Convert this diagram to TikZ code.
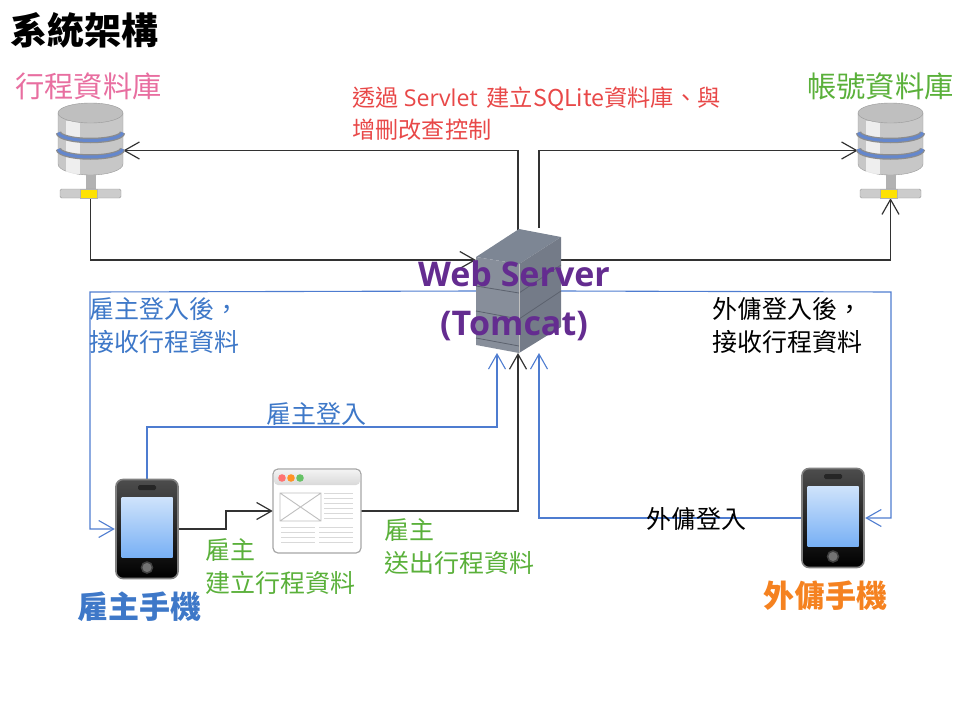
\documentclass[tikz,border=0pt]{standalone}
\usepackage{fontspec}
\usepackage{xcolor}
\setmainfont{Open Sans}
\newfontfamily\cjk{Noto Sans CJK TC}
\usetikzlibrary{arrows.meta,positioning,calc}
\definecolor{linedark}{RGB}{50,50,50}
\definecolor{lineblue}{RGB}{78,124,208}
\definecolor{textblue}{RGB}{62,120,200}
\definecolor{textgreen}{RGB}{90,176,58}
\definecolor{textpink}{RGB}{232,110,160}
\definecolor{textred}{RGB}{232,72,72}
\definecolor{textpurple}{RGB}{100,44,144}
\definecolor{textorange}{RGB}{245,130,32}
\definecolor{bandblue}{RGB}{100,135,205}
\definecolor{servertop}{RGB}{125,134,148}
\definecolor{serverleft}{RGB}{135,142,154}
\definecolor{serverright}{RGB}{116,123,136}
\definecolor{serverseam}{RGB}{92,98,110}
\definecolor{screentop}{RGB}{207,227,251}
\definecolor{screenbot}{RGB}{120,176,245}
\tikzset{
    % Define standard node styles
    iconbox/.style={
        rectangle, draw=none, inner sep=0pt
    },
    blackarrow/.style={
        -{Straight Barb[length=15pt,width=17pt,line width=1.2pt]}, line width=1.2pt, color=linedark
    },
    bluearrow/.style={
        -{Straight Barb[length=15pt,width=17pt,line width=1.1pt]}, line width=1.1pt, color=lineblue
    },
    caption/.style={
        anchor=west, align=left, inner sep=0pt,
        font=\fontsize{25}{33}\selectfont\cjk
    },
    storelabel/.style={
        inner sep=0pt, font=\fontsize{29.3}{32}\selectfont\cjk
    },
    phonelabel/.style={
        inner sep=0pt, font=\fontsize{31}{34}\selectfont\cjk\bfseries
    },
    % Define the pictures of the devices
    dbicon/.pic={
        \draw[fill=black!22, draw=black!40] (-32.5,-37.5) -- (-32.5,13.5) arc[x radius=32.5, y radius=11, start angle=180, end angle=0]
            -- (32.5,-37.5) -- cycle;
        \fill[white, opacity=.7] (-25,-30) rectangle (-11,23);
        \draw[black!45, line width=5.5pt] (-32,-18) arc[x radius=32, y radius=8, start angle=180, end angle=0];
        \draw[black!45, line width=5.5pt] (-32,-1.5) arc[x radius=32, y radius=8, start angle=180, end angle=0];
        \draw[bandblue, line width=3pt] (-32,-18) arc[x radius=32, y radius=8, start angle=180, end angle=0];
        \draw[bandblue, line width=3pt] (-32,-1.5) arc[x radius=32, y radius=8, start angle=180, end angle=0];
        \draw[fill=black!25, draw=black!40] (0,-37.5) ellipse[x radius=32.5, y radius=10];
        \fill[black!30] (-4.5,24.5) rectangle (5.5,40);
        \draw[fill=black!20, draw=black!40, rounded corners=1.5pt] (-30.5,38.5) rectangle (30.5,47.5);
        \draw[fill=yellow!85!orange, draw=black!30] (-10,38.5) rectangle (6.5,47.5);
    },
    phoneicon/.pic={
        \draw[draw=black!50, line width=1.6pt, rounded corners=7pt, top color=black!70, bottom color=black] (-31,-49.5) rectangle (31,49.5);
        \fill[black!85, rounded corners=1.5pt] (-9,-44) rectangle (9,-39);
        \shade[top color=screentop, bottom color=screenbot] (-25.5,-32) rectangle (25.5,28);
        \draw[fill=black!55, draw=black!75, line width=1.5pt] (0,38.5) circle (5.5);
    },
    pageicon/.pic={
        \draw[fill=white, draw=black!35, line width=1.2pt, rounded corners=5pt] (273,469) rectangle (361,553);
        \shade[top color=black!5, bottom color=black!15, rounded corners=4pt] (274,470) rectangle (360,485);
        \fill[red!55] (282,478) circle (3.8);
        \fill[orange!85] (291,478) circle (3.8);
        \fill[green!60!black!60] (300,478) circle (3.8);
        \draw[black!25, line width=.9pt] (280,493) rectangle (321,521) (280,493) -- (321,521) (280,521) -- (321,493);
        \foreach \y in {493,498,...,518} {\draw[black!15, line width=1pt] (324,\y) -- (353,\y);}
        \foreach \y in {527,532,537,542} {\draw[black!15, line width=1pt] (281,\y) -- (315,\y) (319,\y) -- (353,\y);}
    },
    servericon/.pic={
        \fill[servertop] (476,257) -- (519,229) -- (561,237) -- (519,264) -- cycle;
        \fill[serverleft] (476,257) -- (519,264) -- (519,353) -- (476,345) -- cycle;
        \fill[serverright] (519,264) -- (561,237) -- (561,327) -- (519,353) -- cycle;
        \draw[serverseam, line width=.8pt] (476,286) -- (519,293) -- (561,265) (476,311) -- (519,319) -- (561,291) (476,338) -- (519,346);
        \draw[black!25, line width=.8pt] (519,264) -- (519,353);
    }
}
\begin{document}
\begin{tikzpicture}[x=1pt,y=-1pt]
\useasboundingbox (0,0) rectangle (960,720);

\node[iconbox, minimum width=65pt, minimum height=95pt] (dbsched) at (90.5,150.5) {};
\node[iconbox, minimum width=65pt, minimum height=95pt] (dbacct) at (890.5,150.5) {};
\node[iconbox, minimum width=85pt, minimum height=124pt] (server) at (518.5,291) {};
\node[iconbox, minimum width=64pt, minimum height=100pt] (bossphone) at (147,529) {};
\node[iconbox, minimum width=64pt, minimum height=100pt] (workerphone) at (833,518) {};
\node[iconbox, minimum width=88pt, minimum height=84pt] (page) at (317,511) {};

\coordinate (srvtopl) at (518,230);
\coordinate (srvtopr) at (539,228);
\coordinate (srvleft) at (476,260);
\coordinate (srvright) at (560,260);
\coordinate (srvbotl) at (497,353);
\coordinate (srvbotm) at (518,353);
\coordinate (srvbotr) at (539,353);
\coordinate (bluebendl) at (90,292);
\coordinate (bluebendr) at (891,292);
\coordinate (pagebend) at (226,520);

\draw[blackarrow] (srvtopl) |- (dbsched.east);
\draw[blackarrow] (srvtopr) |- (dbacct.west);
\draw[blackarrow] (dbsched.south) |- (srvleft);
\draw[blackarrow] (srvright) -| (dbacct.south);
\draw[bluearrow] (server.west) -- (bluebendl) |- (bossphone.west);
\draw[bluearrow] (server.east) -- (bluebendr) |- (workerphone.east);
\draw[bluearrow] (bossphone.north) |- (srvbotl |- 0,427) -- (srvbotl);
\draw[blackarrow] (bossphone.east) -| (pagebend) |- (page.west);
\draw[blackarrow] (page.east) -| (srvbotm);
\draw[bluearrow] (workerphone.west) -| (srvbotr);

\pic at (dbsched) {dbicon};
\pic at (dbacct) {dbicon};
\pic at (0,0) {servericon};
\pic at (bossphone) {phoneicon};
\pic at (workerphone) {phoneicon};
\pic at (0,0) {pageicon};

\node[inner sep=0pt, anchor=west, font=\fontsize{37}{40}\selectfont\cjk\bfseries] (title) at (10,30) {系統架構};
\node[storelabel, text=textpink, above=3pt of dbsched, xshift=-2pt] (schedlabel) {行程資料庫};
\node[storelabel, text=textgreen, above=3pt of dbacct, xshift=-10pt] (acctlabel) {帳號資料庫};
\node[caption, text=textred, font=\fontsize{23.2}{32}\selectfont\cjk] (ctrlnote) at (352,114) {透過 {\fontspec{Open Sans}Servlet}\, 建立SQLite資料庫、與\\增刪改查控制};
\node[caption, text=textblue] (bossnote) at (89,325.5) {雇主登入後，\\接收行程資料};
\node[caption] (workernote) at (712,326) {外傭登入後，\\接收行程資料};
\node[caption, anchor=center, text=textblue] (bosslogin) at (316,414) {雇主登入};
\node[caption, anchor=center] (workerlogin) at (696,519) {外傭登入};
\node[caption, text=textgreen] (createnote) at (205,567) {雇主\\建立行程資料};
\node[caption, text=textgreen] (sendnote) at (384,547) {雇主\\送出行程資料};
\node[align=center, inner sep=0pt, text=textpurple, font=\fontsize{34}{49}\selectfont\bfseries] (srvlabel) at (514,300.5) {Web Server\\(Tomcat)};
\node[phonelabel, text=textblue, below=12.5pt of bossphone, xshift=-8pt] (bosslabel) {雇主手機};
\node[phonelabel, text=textorange, below=12.5pt of workerphone, xshift=-8pt] (workerlabel) {外傭手機};

\end{tikzpicture}
\end{document}
